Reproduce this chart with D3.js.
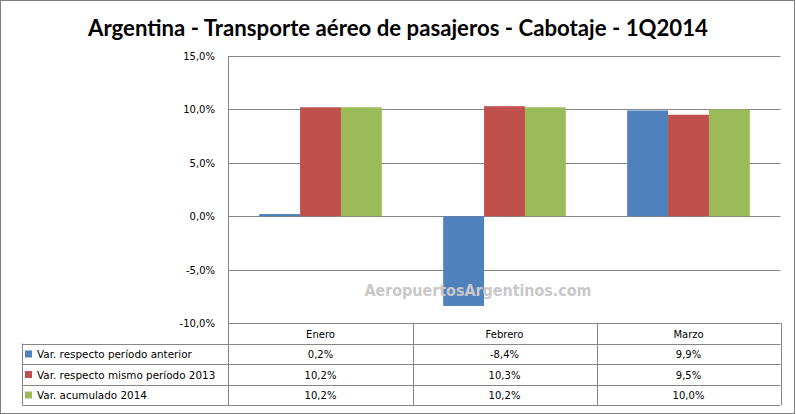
<!DOCTYPE html>
<html>
<head>
<meta charset="utf-8">
<script src="https://cdn.jsdelivr.net/npm/d3@7"></script>
<style>
  body { margin: 0; background: #fff; }
  svg { display: block; }
</style>
</head>
<body>
<div id="chart"></div>
<script>
// datos del grafico
var categories = ["Enero", "Febrero", "Marzo"];
var seriesNames = ["Var. respecto período anterior", "Var. respecto mismo período 2013", "Var. acumulado 2014"];
var varAnterior = [0.2, -8.4, 9.9];
var varMismo2013 = [10.2, 10.3, 9.5];
var varAcum2014 = [10.2, 10.2, 10.0];
var yTicks = [-10, -5, 0, 5, 10, 15];
var colors = ["#4f81bd", "#c0504d", "#9bbb59"];

var width = 796, height = 414,
    plotLeft = 228.5, plotRight = 780.5,
    plotTop = 56, plotBottom = 323,
    rowH = 20.5,
    gridColor = "#868686",
    font = "'DejaVu Sans', Verdana, sans-serif";

var seriesValues = [varAnterior, varMismo2013, varAcum2014];

// formato con coma decimal y guion como signo menos
var es = d3.formatLocale({decimal: ",", thousands: ".", grouping: [3], currency: ["$", ""], minus: "-"});
var fmt = function(v) { return es.format(".1f")(v) + "%"; };

var svg = d3.select("#chart").append("svg")
    .attr("width", width)
    .attr("height", height);

// borde exterior
svg.append("rect")
    .attr("x", 0.5).attr("y", 0.5)
    .attr("width", width - 2).attr("height", height - 1)
    .attr("fill", "#fff")
    .attr("stroke", "#7f7f7f");

// titulo
svg.append("text")
    .attr("x", 398).attr("y", 36)
    .attr("text-anchor", "middle")
    .attr("font-family", "Lato, 'Open Sans', sans-serif")
    .attr("font-weight", "bold")
    .attr("font-size", 22)
    .attr("textLength", 620)
    .attr("lengthAdjust", "spacingAndGlyphs")
    .text("Argentina - Transporte aéreo de pasajeros - Cabotaje - 1Q2014");

var y = d3.scaleLinear()
    .domain([-10, 15])
    .range([plotBottom, plotTop]);

var x0 = d3.scaleBand()
    .domain(categories)
    .range([plotLeft, plotRight]);

var x1 = d3.scaleBand()
    .domain(d3.range(seriesNames.length))
    .range([0, x0.bandwidth()])
    .paddingOuter(0.75);

// lineas de grilla
svg.append("g").selectAll("line")
    .data(yTicks)
  .enter().append("line")
    .attr("x1", plotLeft).attr("x2", plotRight)
    .attr("y1", function(d) { return Math.round(y(d)) + 0.5; })
    .attr("y2", function(d) { return Math.round(y(d)) + 0.5; })
    .attr("stroke", gridColor);

// eje y etiquetas
svg.append("g").selectAll("text")
    .data(yTicks)
  .enter().append("text")
    .attr("x", 215)
    .attr("y", function(d) { return y(d) + 4; })
    .attr("text-anchor", "end")
    .attr("font-family", font)
    .attr("font-size", 10)
    .attr("fill", "#000")
    .text(fmt);

// barras
var groups = svg.append("g").selectAll("g")
    .data(categories)
  .enter().append("g")
    .attr("transform", function(d) { return "translate(" + x0(d) + ",0)"; });

groups.selectAll("rect")
    .data(function(d, i) { return seriesValues.map(function(s, j) { return {s: j, v: s[i]}; }); })
  .enter().append("rect")
    .attr("x", function(d) { return x1(d.s); })
    .attr("width", x1.bandwidth())
    .attr("y", function(d) { return y(Math.max(0, d.v)); })
    .attr("height", function(d) { return Math.abs(y(d.v) - y(0)); })
    .attr("fill", function(d) { return colors[d.s]; });

// marca de agua
svg.append("text")
    .attr("x", 478).attr("y", 296)
    .attr("text-anchor", "middle")
    .attr("font-family", font)
    .attr("font-weight", "bold")
    .attr("font-size", 15)
    .attr("textLength", 227)
    .attr("lengthAdjust", "spacingAndGlyphs")
    .attr("fill", "#c8c8c8")
    .text("AeropuertosArgentinos.com");

// tabla de datos
var tableLeft = 22.5;
var table = svg.append("g");
var rowTop = function(r) { return plotBottom + rowH * r; };
var tableBottom = rowTop(4);

// eje vertical izquierdo
table.append("line")
    .attr("x1", plotLeft).attr("x2", plotLeft)
    .attr("y1", plotTop).attr("y2", tableBottom)
    .attr("stroke", gridColor);

// divisiones de categorias
table.selectAll("line.cat")
    .data(categories)
  .enter().append("line")
    .attr("class", "cat")
    .attr("x1", function(d) { return Math.round(x0(d) + x0.bandwidth()) + 0.5; })
    .attr("x2", function(d) { return Math.round(x0(d) + x0.bandwidth()) + 0.5; })
    .attr("y1", plotBottom).attr("y2", tableBottom)
    .attr("stroke", gridColor);

// lineas horizontales de filas
table.selectAll("line.row")
    .data([1, 2, 3, 4])
  .enter().append("line")
    .attr("class", "row")
    .attr("x1", tableLeft).attr("x2", plotRight)
    .attr("y1", function(r) { return Math.round(rowTop(r)) + 0.5; })
    .attr("y2", function(r) { return Math.round(rowTop(r)) + 0.5; })
    .attr("stroke", gridColor);

table.append("line")
    .attr("x1", tableLeft).attr("x2", tableLeft)
    .attr("y1", rowTop(1)).attr("y2", tableBottom)
    .attr("stroke", gridColor);

// encabezados
table.selectAll("text.cat")
    .data(categories)
  .enter().append("text")
    .attr("class", "cat")
    .attr("x", function(d) { return x0(d) + x0.bandwidth() / 2; })
    .attr("y", rowTop(0) + 14.5)
    .attr("text-anchor", "middle")
    .attr("font-family", font)
    .attr("font-size", 10)
    .text(function(d) { return d; });

// filas de leyenda y valores
var rows = table.selectAll("g.serie")
    .data(seriesNames)
  .enter().append("g")
    .attr("class", "serie")
    .attr("transform", function(d, i) { return "translate(0," + rowTop(i + 1) + ")"; });

rows.append("rect")
    .attr("x", 25).attr("y", 7)
    .attr("width", 7).attr("height", 7)
    .attr("fill", function(d, i) { return colors[i]; });

rows.append("text")
    .attr("x", 37).attr("y", 14.5)
    .attr("font-family", font)
    .attr("font-size", 10.4)
    .text(function(d) { return d; });

rows.selectAll("text.val")
    .data(function(d, i) { return seriesValues[i]; })
  .enter().append("text")
    .attr("class", "val")
    .attr("x", function(d, i) { return x0(categories[i]) + x0.bandwidth() / 2; })
    .attr("y", 14.5)
    .attr("text-anchor", "middle")
    .attr("font-family", font)
    .attr("font-size", 10)
    .text(fmt);
</script>
</body>
</html>
